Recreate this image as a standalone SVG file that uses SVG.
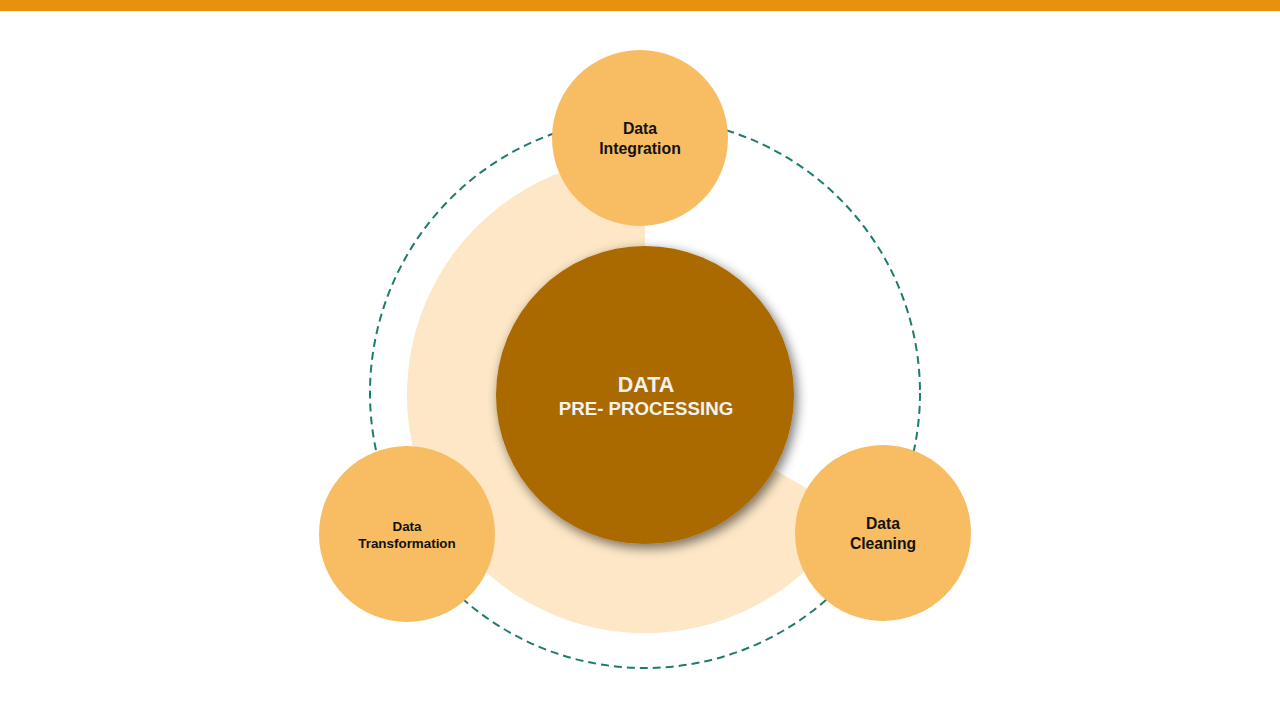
<svg xmlns="http://www.w3.org/2000/svg" width="1280" height="720" viewBox="0 0 1280 720">
  <defs>
    <filter id="hubShadow" x="-20%" y="-20%" width="140%" height="140%">
      <feGaussianBlur in="SourceAlpha" stdDeviation="6"/>
      <feOffset dx="3" dy="4" result="blur"/>
      <feComponentTransfer><feFuncA type="linear" slope="0.55"/></feComponentTransfer>
      <feMerge><feMergeNode/><feMergeNode in="SourceGraphic"/></feMerge>
    </filter>
    <style>
      .sat { fill: #F8BC62; }
      .satLabel { font-family: "Liberation Sans", Arial, sans-serif; font-weight: bold; fill: #111; text-anchor: middle; }
      .hubLabel { font-family: "Liberation Sans", Arial, sans-serif; font-weight: bold; fill: #F2F2F2; text-anchor: middle; }
      .orbit { fill: none; stroke: #1E7B6E; stroke-width: 2; stroke-dasharray: 8 5; }
    </style>
  </defs>

  <rect width="1280" height="720" fill="#FFFFFF"/>
  <!-- header strip -->
  <rect x="0" y="0" width="1280" height="11" fill="#E8910C"/>

  <!-- dashed orbit -->
  <g id="connectors">
    <circle class="orbit" cx="645" cy="393" r="275"/>
  </g>

  <!-- pale backdrop: disc with upper-right sector removed -->
  <path id="backdrop" d="M645,395 L645,157 A238,238 0 1 0 851.1,514 Z" fill="#FDE7C6"/>

  <g id="hub">
    <circle cx="645" cy="395" r="149" fill="#AA6A05" filter="url(#hubShadow)"/>
    <text class="hubLabel" x="646" y="392" font-size="21.5">DATA</text>
    <text class="hubLabel" x="646" y="415" font-size="18.7">PRE- PROCESSING</text>
  </g>

  <g id="integration">
    <circle class="sat" cx="640" cy="138" r="88"/>
    <text class="satLabel" x="640" y="134" font-size="15.8">Data</text>
    <text class="satLabel" x="640" y="154" font-size="15.8">Integration</text>
  </g>

  <g id="transformation">
    <circle class="sat" cx="407" cy="534" r="88"/>
    <text class="satLabel" x="407" y="531" font-size="13.4">Data</text>
    <text class="satLabel" x="407" y="548" font-size="13.4">Transformation</text>
  </g>

  <g id="cleaning">
    <circle class="sat" cx="883" cy="533" r="88"/>
    <text class="satLabel" x="883" y="529" font-size="15.7">Data</text>
    <text class="satLabel" x="883" y="549" font-size="15.7">Cleaning</text>
  </g>
</svg>
